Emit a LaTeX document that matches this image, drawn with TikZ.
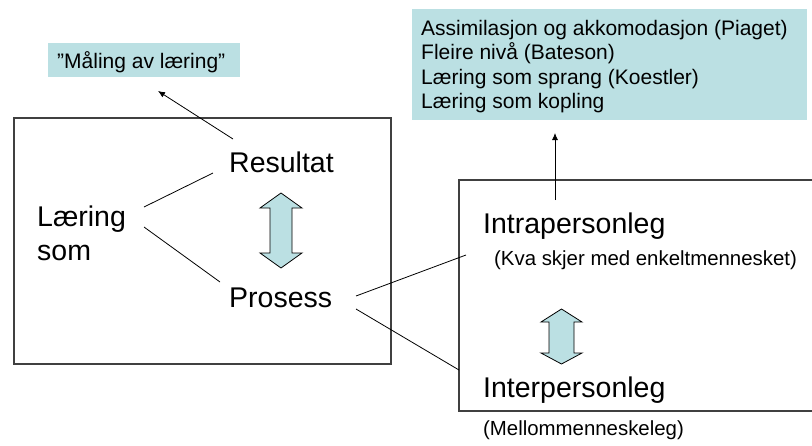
\documentclass[tikz,border=0pt]{standalone}
\usepackage{fontspec}
\setmainfont{Liberation Sans}
\usetikzlibrary{arrows.meta}
\definecolor{paleblue}{RGB}{187,224,227}
\tikzset{
  big/.style={anchor=base west, inner sep=0pt, font=\fontsize{28.5}{32}\selectfont},
  small/.style={anchor=base west, inner sep=0pt, font=\fontsize{20.4}{24}\selectfont},
  listtxt/.style={anchor=base west, inner sep=0pt, font=\fontsize{21}{24}\selectfont},
  frame/.style={draw=black!75, line width=1.1pt},
  conn/.style={draw=black, line width=0.8pt},
  arr/.style={conn, -{Latex[length=7pt,width=6pt]}},
  blockarrow/.style={draw=black, line width=0.8pt, fill=paleblue}
}
\begin{document}
\begin{tikzpicture}[x=1pt,y=-1pt]
\useasboundingbox (0,0) rectangle (812,445);
\clip (0,0) rectangle (812,445);
% blue boxes
\fill[paleblue] (48,43) rectangle (240,77);
\fill[paleblue] (412,9) rectangle (807,120);
\node[listtxt] (maal) at (57,68) {”Måling av læring”};
\node[listtxt] (l1) at (421,35) {Assimilasjon og akkomodasjon (Piaget)};
\node[listtxt] (l2) at (421,59.5) {Fleire nivå (Bateson)};
\node[listtxt] (l3) at (421,84) {Læring som sprang (Koestler)};
\node[listtxt] (l4) at (421,108.5) {Læring som kopling};
% frames
\draw[frame] (14,118) rectangle (391,364);
\draw[frame] (459,180) rectangle (840,411);
% left texts
\node[big] (res) at (229,172) {Resultat};
\node[big] (laer) at (37,226) {Læring};
\node[big] (som) at (37,260) {som};
\node[big] (pro) at (229,307) {Prosess};
% right texts
\node[big] (intra) at (483,233) {Intrapersonleg};
\node[small] (kva) at (494,265) {(Kva skjer med enkeltmennesket)};
\node[big] (inter) at (483,397) {Interpersonleg};
\node[small] (mell) at (483,435) {(Mellommenneskeleg)};
% connector end points
\coordinate (a1) at (144,207);
\coordinate (a2) at (213,173);
\coordinate (b1) at (144,227);
\coordinate (b2) at (220,282);
\coordinate (c1) at (356,296);
\coordinate (c2) at (466,255);
\coordinate (d1) at (356,309);
\coordinate (d2) at (459,370);
\coordinate (e1) at (233,139);
\coordinate (e2) at (158,91);
\coordinate (f1) at (555,200);
\coordinate (f2) at (555,133);
\draw[conn] (a1) -- (a2);
\draw[conn] (b1) -- (b2);
\draw[conn] (c1) -- (c2);
\draw[conn] (d1) -- (d2);
\draw[arr] (e1) -- (e2);
\draw[arr] (f1) -- (f2);
% block double arrows
\draw[blockarrow] (281,193) -- (302,208) -- (292,208) -- (292,253) -- (302,253) -- (281,268)
  -- (260,253) -- (270,253) -- (270,208) -- (260,208) -- cycle;
\draw[blockarrow] (561.5,309) -- (582,322) -- (574,322) -- (574,353) -- (582,353) -- (561.5,364)
  -- (541,353) -- (549,353) -- (549,322) -- (541,322) -- cycle;
\end{tikzpicture}
\end{document}
